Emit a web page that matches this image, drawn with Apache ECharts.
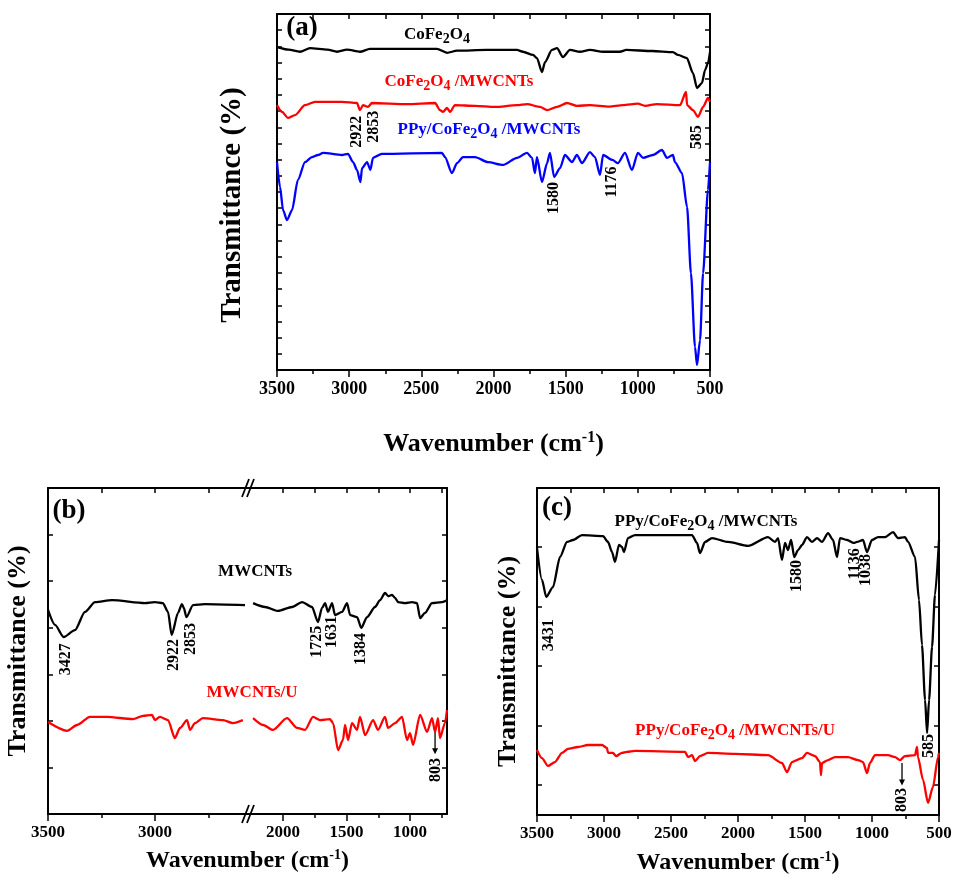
<!DOCTYPE html>
<html>
<head>
<meta charset="utf-8">
<script src="https://cdn.jsdelivr.net/npm/echarts@6/dist/echarts.min.js"></script>
<style>
  html, body { margin: 0; padding: 0; background: #fff; }
  #chart { width: 955px; height: 883px; }
</style>
</head>
<body>
<div id="chart"></div>
<script>
// FTIR spectra, [wavenumber (cm-1), transmittance (a.u., 0-100 of panel)]
const cofe2o4 = [
  [3500, 90.7], [3420, 90.0], [3341, 89.4], [3271, 90.4], [3150, 90.0], [3084, 89.4], [3015, 90.0],
  [2925, 89.4], [2856, 90.2], [2600, 90.2], [2392, 90.2], [2322, 89.1], [2253, 89.7], [2050, 89.9],
  [1837, 89.9], [1796, 89.4], [1726, 88.5], [1699, 87.6], [1664, 83.7], [1643, 86.5], [1595, 89.9],
  [1560, 90.4], [1519, 87.9], [1470, 89.9], [1401, 89.4], [1332, 89.9], [1241, 89.4], [1124, 89.4],
  [1080, 89.9], [900, 89.6], [757, 89.3], [722, 88.5], [660, 87.6], [618, 83.4], [590, 79.2],
  [556, 80.6], [534, 84.3], [514, 86.2], [500, 89.3]
];
const cofe2o4Mwcnts = [
  [3500, 74.4], [3465, 72.5], [3424, 70.8], [3375, 71.6], [3306, 74.4], [3237, 75.3], [3050, 75.3],
  [2946, 75.0], [2925, 73.0], [2904, 74.4], [2870, 73.9], [2842, 75.0], [2600, 74.7], [2405, 75.0],
  [2371, 73.0], [2350, 72.5], [2322, 73.6], [2301, 72.5], [2267, 74.4], [2128, 74.2], [1990, 73.9],
  [1837, 74.4], [1768, 74.7], [1678, 73.9], [1629, 73.0], [1560, 73.9], [1491, 75.0], [1422, 74.2],
  [1332, 74.4], [1200, 74.0], [1103, 74.4], [1000, 74.8], [950, 74.2], [867, 74.7], [708, 74.4],
  [666, 78.1], [659, 74.4], [618, 73.0], [583, 71.1], [548, 73.9], [514, 76.4], [500, 75.3]
];
const ppyCofe2o4Mwcnts = [
  [3500, 58.4], [3479, 51.4], [3458, 44.9], [3431, 42.1], [3396, 44.9], [3355, 53.4], [3306, 58.4],
  [3258, 59.8], [3216, 60.4], [3181, 61.0], [3050, 60.4], [3008, 60.7], [2973, 58.4], [2946, 56.2],
  [2922, 52.8], [2911, 56.7], [2876, 58.4], [2853, 56.2], [2835, 59.6], [2773, 60.7], [2357, 61.0],
  [2336, 59.8], [2288, 55.3], [2253, 58.1], [2211, 59.8], [2128, 59.8], [2038, 58.4], [1934, 57.6],
  [1837, 59.6], [1768, 61.0], [1733, 59.6], [1713, 55.3], [1699, 59.8], [1664, 52.8], [1629, 58.1],
  [1609, 61.0], [1580, 54.2], [1539, 56.7], [1505, 60.4], [1456, 58.4], [1422, 60.4], [1387, 58.1],
  [1332, 61.2], [1297, 59.8], [1262, 54.8], [1241, 60.4], [1176, 59.0], [1138, 58.1], [1089, 61.0],
  [1041, 56.2], [999, 61.0], [964, 59.6], [895, 60.4], [833, 61.8], [798, 59.6], [757, 60.4],
  [743, 58.4], [694, 55.3], [659, 45.8], [632, 27.2], [604, 6.5], [590, 1.4], [569, 8.4],
  [548, 27.2], [514, 50.6], [500, 58.4]
];
const mwcnts = [
  [3500, 62.6], [3467, 58.0], [3427, 54.3], [3374, 56.4], [3327, 62.0], [3280, 65.0], [3201, 65.6],
  [3047, 64.7], [3000, 65.0], [2963, 64.7], [2939, 62.0], [2922, 54.9], [2892, 61.7], [2874, 64.4],
  [2865, 63.2], [2853, 60.4], [2822, 64.1], [2766, 64.4], [2579, 64.1],
  [2236, 64.7], [2142, 63.5], [2039, 62.3], [1929, 63.5], [1850, 65.0], [1772, 63.5], [1725, 58.9],
  [1693, 63.2], [1669, 64.7], [1646, 62.0], [1614, 64.7], [1591, 61.0], [1535, 62.0], [1496, 64.7],
  [1472, 61.0], [1417, 60.4], [1384, 57.1], [1339, 60.4], [1276, 63.5], [1236, 65.6], [1197, 67.8],
  [1170, 66.8], [1142, 67.2], [1118, 66.3], [1094, 65.0], [1039, 64.7], [984, 65.0], [945, 64.7],
  [921, 60.1], [882, 61.7], [827, 64.7], [748, 65.0], [709, 65.6]
];
const mwcntsU = [
  [3500, 28.2], [3411, 25.5], [3364, 27.3], [3304, 29.8], [3224, 29.8], [3103, 29.1], [3056, 30.1],
  [3014, 30.4], [3000, 28.8], [2977, 29.8], [2939, 28.8], [2907, 23.3], [2883, 26.4], [2850, 28.8],
  [2836, 25.8], [2813, 27.9], [2776, 29.4], [2682, 28.8], [2635, 27.9], [2589, 28.8],
  [2236, 29.4], [2157, 27.3], [2079, 25.8], [1969, 29.4], [1890, 26.4], [1827, 25.8], [1764, 29.8],
  [1709, 28.8], [1630, 29.1], [1606, 27.9], [1567, 19.6], [1528, 22.7], [1512, 27.3], [1488, 22.7],
  [1457, 27.9], [1417, 25.8], [1394, 29.8], [1354, 24.2], [1291, 28.8], [1252, 25.8], [1197, 29.8],
  [1173, 26.4], [1118, 27.9], [1063, 29.8], [1024, 22.7], [1000, 24.8], [976, 21.2], [921, 30.4],
  [866, 25.2], [827, 29.4], [803, 25.2], [780, 29.4], [764, 23.3], [725, 27.9], [709, 31.9]
];
const ppyMwcntsC = [
  [3500, 81.7], [3463, 71.9], [3431, 66.7], [3381, 69.7], [3328, 78.9], [3276, 83.5], [3231, 84.1],
  [3164, 85.6], [3007, 85.3], [2970, 83.5], [2940, 80.4], [2918, 77.4], [2888, 82.6], [2866, 82.0],
  [2851, 80.4], [2821, 84.7], [2769, 85.6], [2343, 85.6], [2306, 83.2], [2284, 80.1], [2246, 83.5],
  [2194, 84.7], [2075, 83.5], [1925, 82.3], [1776, 85.0], [1724, 83.5], [1701, 84.7], [1672, 78.0],
  [1649, 83.2], [1627, 81.0], [1604, 84.1], [1580, 78.9], [1552, 81.0], [1522, 82.6], [1485, 85.0],
  [1448, 83.5], [1410, 84.7], [1373, 83.5], [1328, 86.2], [1291, 84.1], [1261, 78.9], [1239, 84.7],
  [1186, 84.1], [1136, 83.2], [1112, 83.5], [1067, 84.1], [1038, 80.4], [1000, 84.1], [955, 85.0],
  [903, 85.0], [843, 86.5], [806, 84.7], [754, 85.0], [731, 83.5], [679, 78.9], [649, 65.7],
  [627, 52.0], [604, 35.2], [589, 25.1], [574, 35.2], [552, 51.4], [530, 67.3], [500, 84.1]
];
const ppyMwcntsU = [
  [3500, 19.9], [3463, 17.4], [3418, 15.0], [3366, 16.2], [3313, 19.0], [3269, 20.2], [3194, 20.8],
  [3119, 21.4], [3015, 21.4], [2978, 20.5], [2970, 19.0], [2933, 19.0], [2910, 18.0], [2866, 19.0],
  [2828, 19.3], [2769, 19.6], [2395, 19.3], [2373, 17.7], [2343, 18.3], [2321, 16.5], [2284, 18.0],
  [2224, 19.0], [2022, 18.7], [1776, 18.3], [1672, 15.9], [1634, 13.1], [1597, 16.2], [1522, 17.4],
  [1485, 19.0], [1425, 18.0], [1388, 16.2], [1381, 12.2], [1373, 15.9], [1328, 16.8], [1276, 17.7],
  [1179, 17.7], [1104, 16.8], [1067, 16.2], [1037, 12.8], [1015, 15.9], [978, 18.3], [881, 18.3],
  [828, 17.7], [791, 16.8], [754, 18.0], [679, 18.3], [664, 20.8], [657, 17.7], [619, 10.7],
  [582, 3.7], [545, 8.6], [507, 17.7], [500, 19.0]
];

// axis tick values
const ticksA = [3500, 3000, 2500, 2000, 1500, 1000, 500];
const minorA = [3250, 2750, 2250, 1750, 1250, 750];
const ticksBL = [3500, 3000];
const minorBL = [3250, 2750];
const ticksBR = [2000, 1500, 1000];
const minorBR = [1750, 1250, 750];
const rangeA = [500, 3500];
const rangeBL = [2565, 3500];
const rangeBR = [709, 2276];
const ticksYC = [9.1, 27.3, 45.5, 63.7, 81.9];

const FF = '"Liberation Serif", "Times New Roman", serif';
const BLACK = '#000000', RED = '#ff0000', BLUE = '#0000ff';

const L = {
  a: { left: 277, top: 14, width: 433, height: 356 },
  bL: { left: 48, top: 488, width: 200, height: 326 },
  bR: { left: 248, top: 488, width: 199, height: 326 },
  c: { left: 537, top: 488, width: 402, height: 327 }
};

function richFor(size) {
  return {
    sup: { fontFamily: FF, fontWeight: 'bold', fontSize: Math.round(size * 0.6), padding: [0, 0, Math.round(size * 0.5), 0] }
  };
}

function xBottom(gridIndex, range, majors, size, name, gap, nameSize) {
  return {
    type: 'value', gridIndex, position: 'bottom', min: range[0], max: range[1], inverse: true,
    name: name || '', nameLocation: 'middle', nameGap: gap || 0,
    nameTextStyle: { fontFamily: FF, fontWeight: 'bold', fontSize: nameSize || 24, color: BLACK, rich: richFor(nameSize || 24) },
    axisLine: { show: true, onZero: false, lineStyle: { color: BLACK, width: 2 } },
    axisTick: { show: true, inside: false, length: 7, customValues: majors, lineStyle: { color: BLACK, width: 1.5 } },
    axisLabel: {
      show: true, customValues: majors, margin: 10, formatter: v => String(v),
      fontFamily: FF, fontWeight: 'bold', fontSize: size, color: BLACK
    },
    splitLine: { show: false }
  };
}
function xMinor(gridIndex, range, minors) {
  return {
    type: 'value', gridIndex, position: 'bottom', min: range[0], max: range[1], inverse: true,
    axisLine: { show: false },
    axisTick: { show: true, inside: false, length: 4, customValues: minors, lineStyle: { color: BLACK, width: 1.5 } },
    axisLabel: { show: false }, splitLine: { show: false }
  };
}
function xTop(gridIndex, range, ticks) {
  return {
    type: 'value', gridIndex, position: 'top', min: range[0], max: range[1], inverse: true,
    axisLine: { show: true, onZero: false, lineStyle: { color: BLACK, width: 2 } },
    axisTick: { show: true, inside: true, length: 5, customValues: ticks, lineStyle: { color: BLACK, width: 1.5 } },
    axisLabel: { show: false }, splitLine: { show: false }
  };
}
function yAx(gridIndex, position, tickOpt, name, gap, nameSize, namePad) {
  return {
    type: 'value', gridIndex, position, min: 0, max: 100, ...tickOpt.base,
    name: name || '', nameLocation: 'middle', nameGap: gap || 0, nameRotate: 90,
    nameTextStyle: { fontFamily: FF, fontWeight: 'bold', fontSize: nameSize || 25, color: BLACK, padding: namePad || 0 },
    axisLine: { show: true, onZero: false, lineStyle: { color: BLACK, width: 2 } },
    axisTick: { show: true, inside: true, length: 5, lineStyle: { color: BLACK, width: 1.5 }, ...tickOpt.tick },
    axisLabel: { show: false }, splitLine: { show: false }
  };
}

const tickA = { base: { interval: 100 / 22 }, tick: {} };
const tickB = { base: { interval: 100 / 7 }, tick: {} };
const tickC = { base: {}, tick: { customValues: ticksYC } };

const xTitle = 'Wavenumber (cm{sup|-1})';
const yTitle = 'Transmittance (%)';

const xAxis = [
  xBottom(0, rangeA, ticksA, 18, xTitle, 60, 26), xMinor(0, rangeA, minorA), xTop(0, rangeA, ticksA.concat(minorA)),
  xBottom(1, rangeBL, ticksBL, 17), xMinor(1, rangeBL, minorBL), xTop(1, rangeBL, ticksBL.concat(minorBL)),
  xBottom(2, rangeBR, ticksBR, 17), xMinor(2, rangeBR, minorBR), xTop(2, rangeBR, ticksBR.concat(minorBR)),
  xBottom(3, rangeA, ticksA, 17, xTitle, 35, 24), xMinor(3, rangeA, minorA), xTop(3, rangeA, ticksA.concat(minorA))
];
const yAxis = [
  yAx(0, 'left', tickA, yTitle, 30, 29, [0, 26, 0, 0]), yAx(0, 'right', tickA),
  yAx(1, 'left', tickB, yTitle, 17, 26),
  yAx(2, 'right', tickB),
  yAx(3, 'left', tickC, yTitle, 16, 26, [0, 20, 0, 0]), yAx(3, 'right', tickC)
];

function line(data, color, xi, yi) {
  return {
    type: 'line', data, xAxisIndex: xi, yAxisIndex: yi, showSymbol: false, symbol: 'none',
    smooth: 0.25, smoothMonotone: 'x', silent: true, animation: false,
    lineStyle: { color, width: 2.3 }
  };
}
const leftPart = d => d.filter(p => p[0] >= rangeBL[0]);
const rightPart = d => d.filter(p => p[0] <= rangeBR[1]);

const series = [
  line(cofe2o4, BLACK, 0, 0),
  line(cofe2o4Mwcnts, RED, 0, 0),
  line(ppyCofe2o4Mwcnts, BLUE, 0, 0),
  line(leftPart(mwcnts), BLACK, 3, 2),
  line(leftPart(mwcntsU), RED, 3, 2),
  line(rightPart(mwcnts), BLACK, 6, 3),
  line(rightPart(mwcntsU), RED, 6, 3),
  line(ppyMwcntsC, BLACK, 9, 4),
  line(ppyMwcntsU, RED, 9, 4)
];

// text annotations placed in data coordinates of each panel
const panels = { a: [0, 0], bL: [3, 2], bR: [6, 3], c: [9, 4] };
const notes = [
  { p: 'a', t: '(a)', x: 3327, y: 96.1, s: 27, c: BLACK },
  { p: 'a', t: 'CoFe{s|2}O{s|4}', x: 2392, y: 94.1, s: 17, c: BLACK },
  { p: 'a', t: 'CoFe{s|2}O{s|4} /MWCNTs', x: 2239, y: 80.9, s: 17, c: RED },
  { p: 'a', t: 'PPy/CoFe{s|2}O{s|4} /MWCNTs', x: 2031, y: 67.4, s: 17, c: BLUE },
  { p: 'a', t: '2922', x: 2946, y: 66.9, s: 16, c: BLACK, r: 1 },
  { p: 'a', t: '2853', x: 2828, y: 68.3, s: 16, c: BLACK, r: 1 },
  { p: 'a', t: '585', x: 590, y: 65.4, s: 16, c: BLACK, r: 1 },
  { p: 'a', t: '1580', x: 1581, y: 48.3, s: 16, c: BLACK, r: 1 },
  { p: 'a', t: '1176', x: 1179, y: 52.8, s: 16, c: BLACK, r: 1 },
  { p: 'bL', t: '(b)', x: 3402, y: 92.9, s: 27, c: BLACK },
  { p: 'bR', t: 'MWCNTs', x: 2220, y: 74.5, s: 17, c: BLACK },
  { p: 'bL', t: '3427', x: 3416, y: 47.5, s: 16, c: BLACK, r: 1 },
  { p: 'bL', t: '2922', x: 2911, y: 48.8, s: 16, c: BLACK, r: 1 },
  { p: 'bL', t: '2853', x: 2832, y: 53.7, s: 16, c: BLACK, r: 1 },
  { p: 'bR', t: '1725', x: 1732, y: 52.8, s: 16, c: BLACK, r: 1 },
  { p: 'bR', t: '1631', x: 1614, y: 55.8, s: 16, c: BLACK, r: 1 },
  { p: 'bR', t: '1384', x: 1386, y: 50.6, s: 16, c: BLACK, r: 1 },
  { p: 'bR', t: 'MWCNTs/U', x: 2244, y: 37.1, s: 17, c: RED },
  { p: 'bR', t: '803', x: 795, y: 13.5, s: 16, c: BLACK, r: 1 },
  { p: 'c', t: '(c)', x: 3351, y: 93.9, s: 27, c: BLACK },
  { p: 'c', t: 'PPy/CoFe{s|2}O{s|4} /MWCNTs', x: 2239, y: 89.6, s: 17, c: BLACK },
  { p: 'c', t: '1580', x: 1560, y: 73.1, s: 16, c: BLACK, r: 1 },
  { p: 'c', t: '1136', x: 1127, y: 76.8, s: 16, c: BLACK, r: 1 },
  { p: 'c', t: '1038', x: 1045, y: 74.9, s: 16, c: BLACK, r: 1 },
  { p: 'c', t: '3431', x: 3410, y: 55.0, s: 16, c: BLACK, r: 1 },
  { p: 'c', t: 'PPy/CoFe{s|2}O{s|4} /MWCNTs/U', x: 2022, y: 25.7, s: 17, c: RED },
  { p: 'c', t: '585', x: 575, y: 21.1, s: 16, c: BLACK, r: 1 },
  { p: 'c', t: '803', x: 776, y: 4.6, s: 16, c: BLACK, r: 1 }
];
// arrows pointing from curve down to the 803 labels
const arrows = [
  { p: 'bR', x: 803, y1: 25.8, y2: 18.3 },
  { p: 'c', x: 776, y1: 15.9, y2: 9.0 }
];

const chart = echarts.init(document.getElementById('chart'), null, { renderer: 'canvas' });
chart.setOption({
  animation: false,
  backgroundColor: '#ffffff',
  grid: [L.a, L.bL, L.bR, L.c].map(g => ({ ...g, containLabel: false, outerBoundsMode: 'none', show: false })),
  xAxis, yAxis, series
});

function px(p, x, y) {
  const [xi, yi] = panels[p];
  return chart.convertToPixel({ xAxisIndex: xi, yAxisIndex: yi }, [x, y]);
}

const graphic = [];
notes.forEach(n => {
  const pt = px(n.p, n.x, n.y);
  graphic.push({
    type: 'text', x: pt[0], y: pt[1], rotation: n.r ? Math.PI / 2 : 0, silent: true,
    style: {
      text: n.t, fill: n.c, fontFamily: FF, fontWeight: 'bold', fontSize: n.s,
      align: 'center', verticalAlign: 'middle',
      rich: {
        s: { fontFamily: FF, fontWeight: 'bold', fontSize: n.s - 3, fill: n.c, padding: [9, 0, 0, 0] }
      }
    }
  });
});
arrows.forEach(a => {
  const p1 = px(a.p, a.x, a.y1), p2 = px(a.p, a.x, a.y2);
  graphic.push({ type: 'line', silent: true, shape: { x1: p1[0], y1: p1[1], x2: p2[0], y2: p2[1] - 4 }, style: { stroke: BLACK, lineWidth: 1.3 } });
  graphic.push({ type: 'polygon', silent: true, shape: { points: [[p2[0] - 3, p2[1] - 6], [p2[0] + 3, p2[1] - 6], [p2[0], p2[1]]] }, style: { fill: BLACK } });
});

// axis-break marks for panel (b)
const bx = L.bR.left;
[L.bR.top, L.bR.top + L.bR.height].forEach(by => {
  graphic.push({ type: 'polygon', silent: true, shape: { points: [[bx - 6, by + 9], [bx - 1, by + 9], [bx + 6, by - 9], [bx + 1, by - 9]] }, style: { fill: '#fff' } });
  graphic.push({ type: 'line', silent: true, shape: { x1: bx - 6, y1: by + 9, x2: bx + 1, y2: by - 9 }, style: { stroke: BLACK, lineWidth: 1.8 } });
  graphic.push({ type: 'line', silent: true, shape: { x1: bx - 1, y1: by + 9, x2: bx + 6, y2: by - 9 }, style: { stroke: BLACK, lineWidth: 1.8 } });
});

// shared x title for the broken-axis panel (b)
graphic.push({
  type: 'text', silent: true,
  x: L.bL.left + (L.bL.width + L.bR.width) / 2, y: L.bL.top + L.bL.height + 47,
  style: {
    text: 'Wavenumber (cm{sup|-1})', fill: BLACK, fontFamily: FF, fontWeight: 'bold', fontSize: 24,
    align: 'center', verticalAlign: 'middle', rich: richFor(24)
  }
});

chart.setOption({ graphic });
</script>
</body>
</html>
